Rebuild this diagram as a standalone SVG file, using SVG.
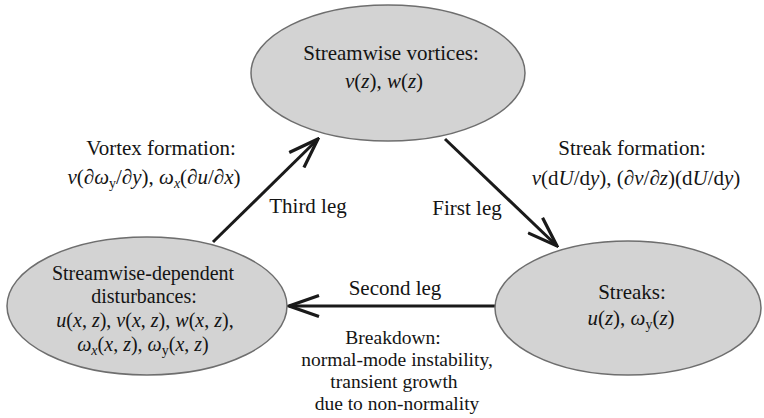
<svg xmlns="http://www.w3.org/2000/svg" width="764" height="418" viewBox="0 0 764 418">
<style>
.node ellipse { fill: #d3d3d3; stroke: #6e6e6e; stroke-width: 1.5; }
text { font-size: 21px; fill: #141414; text-anchor: middle; }
.m { font-size: 20px; }
.s { font-size: 19.5px; }
.i { font-style: italic; }
.sub { font-size: 14px; }
.edge { stroke: #1a1a1a; stroke-width: 3; fill: none; }
</style>
<defs>
<marker id="arr" viewBox="0 0 34 24" refX="32" refY="12" markerWidth="34" markerHeight="24" markerUnits="userSpaceOnUse" orient="auto">
<path d="M2,1.5 L32,12 L2,22.5" fill="none" stroke="#1a1a1a" stroke-width="3.2" stroke-linejoin="miter"/>
</marker>
</defs>
<rect width="764" height="418" fill="#ffffff"/>
<g font-family="Liberation Serif, Times New Roman, serif">
<g id="connectors">
<line class="edge" x1="445" y1="139" x2="557" y2="246" marker-end="url(#arr)"/>
<line class="edge" x1="495" y1="306" x2="289" y2="306" marker-end="url(#arr)"/>
<line class="edge" x1="213" y1="242" x2="318" y2="139" marker-end="url(#arr)"/>
<text x="467" y="215">First leg</text>
<text x="395" y="295">Second leg</text>
<text x="308" y="213">Third leg</text>
<text x="632" y="155">Streak formation:</text>
<text x="636" y="185"><tspan class="i">v</tspan>(d<tspan class="i">U</tspan>/d<tspan class="i">y</tspan>), (∂<tspan class="i">v</tspan>/∂<tspan class="i">z</tspan>)(d<tspan class="i">U</tspan>/d<tspan class="i">y</tspan>)</text>
<text x="161" y="155">Vortex formation:</text>
<text x="154" y="184"><tspan class="i">v</tspan>(∂<tspan class="i">ω</tspan><tspan class="sub" dy="4">y</tspan><tspan dy="-4">/∂</tspan><tspan class="i">y</tspan>), <tspan class="i">ω</tspan><tspan class="sub i" dy="4">x</tspan><tspan dy="-4">(∂</tspan><tspan class="i">u</tspan>/∂<tspan class="i">x</tspan>)</text>
<text class="s" x="393" y="344">Breakdown:</text>
<text class="s" x="397" y="366">normal-mode instability,</text>
<text class="s" x="394" y="388">transient growth</text>
<text class="s" x="397" y="410">due to non-normality</text>
</g>

<g id="streamwise-vortices" class="node">
<ellipse cx="388" cy="73" rx="137" ry="68"/>
<text x="391" y="60">Streamwise vortices:</text>
<text x="384" y="88"><tspan class="i">v</tspan>(<tspan class="i">z</tspan>), <tspan class="i">w</tspan>(<tspan class="i">z</tspan>)</text>
</g>

<g id="streaks" class="node">
<ellipse cx="628" cy="308" rx="133" ry="67"/>
<text x="632" y="299">Streaks:</text>
<text x="631" y="325"><tspan class="i">u</tspan>(<tspan class="i">z</tspan>), <tspan class="i">ω</tspan><tspan class="sub" dy="4">y</tspan><tspan dy="-4">(</tspan><tspan class="i">z</tspan>)</text>
</g>

<g id="streamwise-dependent-disturbances" class="node">
<ellipse cx="147" cy="306" rx="140" ry="69"/>
<text class="m" x="143" y="280">Streamwise-dependent</text>
<text class="m" x="144" y="303">disturbances:</text>
<text class="m" x="145" y="327"><tspan class="i">u</tspan>(<tspan class="i">x</tspan>, <tspan class="i">z</tspan>), <tspan class="i">v</tspan>(<tspan class="i">x</tspan>, <tspan class="i">z</tspan>), <tspan class="i">w</tspan>(<tspan class="i">x</tspan>, <tspan class="i">z</tspan>),</text>
<text class="m" x="143" y="351"><tspan class="i">ω</tspan><tspan class="sub i" dy="4">x</tspan><tspan dy="-4">(</tspan><tspan class="i">x</tspan>, <tspan class="i">z</tspan>), <tspan class="i">ω</tspan><tspan class="sub" dy="4">y</tspan><tspan dy="-4">(</tspan><tspan class="i">x</tspan>, <tspan class="i">z</tspan>)</text>
</g>
</g>
</svg>
